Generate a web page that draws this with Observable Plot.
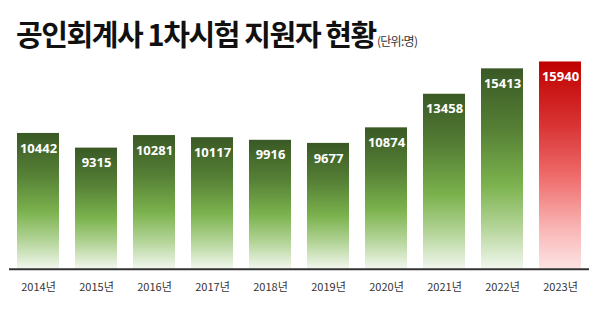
<!DOCTYPE html>
<html><head><meta charset="utf-8">
<script src="https://cdn.jsdelivr.net/npm/d3@7"></script>
<script src="https://cdn.jsdelivr.net/npm/@observablehq/plot@0.6"></script>
<style>
body{margin:0;background:#fff;width:600px;height:309px;overflow:hidden;font-family:"Noto Sans CJK KR","Noto Sans",sans-serif;}
#title{height:50px;position:relative;}
#title .main{position:absolute;left:16px;top:19px;font-size:29px;font-weight:700;letter-spacing:-1.4px;color:#111;white-space:nowrap;line-height:1;}
#title .unit{font-size:12px;font-weight:400;letter-spacing:-0.7px;color:#333;margin-left:1px;}
svg{display:block;}
</style></head>
<body>
<div id="title"><div class="main">공인회계사 1차시험 지원자 현황<span class="unit">(단위:명)</span></div></div>
<div id="chart"></div>
<script>
const years = ["2014년","2015년","2016년","2017년","2018년","2019년","2020년","2021년","2022년","2023년"];
const applicants = [10442, 9315, 10281, 10117, 9916, 9677, 10874, 13458, 15413, 15940];
const highlight = ["2023년"];

const data = years.map((y, i) => ({year: y, value: applicants[i], hi: highlight.includes(y)}));

const chart = Plot.plot({
  width: 600,
  height: 259,
  marginLeft: 9,
  marginRight: 11,
  marginTop: 10.7,
  marginBottom: 40.3,
  style: {fontFamily: '"Noto Sans CJK KR","Noto Sans",sans-serif', background: "transparent"},
  x: {domain: years, paddingInner: 0.276, paddingOuter: 0.138, label: null},
  y: {domain: [0, 16000], axis: null},
  marks: [
    Plot.barY(data, {x: "year", y: "value", fill: d => d.hi ? "url(#gradRed)" : "url(#gradGreen)"}),
    Plot.ruleY([0], {stroke: "#333", strokeWidth: 2}),
    Plot.text(data, {x: "year", y: "value", text: d => String(d.value), dy: 15, fill: "white",
      fontSize: 13, fontWeight: 700, fontFamily: '"Noto Sans","Open Sans",sans-serif'}),
    Plot.axisX({tickSize: 0, tickPadding: 14, fontSize: 11, color: "#333", label: null})
  ]
});

const ns = "http://www.w3.org/2000/svg";
const defs = document.createElementNS(ns, "defs");
defs.innerHTML = `
<linearGradient id="gradGreen" x1="0" y1="0" x2="0" y2="1">
  <stop offset="0" stop-color="#3a5925"/>
  <stop offset="0.3" stop-color="#557f35"/>
  <stop offset="0.58" stop-color="#7bb24d"/>
  <stop offset="0.8" stop-color="#b5d59a"/>
  <stop offset="1" stop-color="#f2f7ee"/>
</linearGradient>
<linearGradient id="gradRed" x1="0" y1="0" x2="0" y2="1">
  <stop offset="0" stop-color="#c00000"/>
  <stop offset="0.3" stop-color="#d83232"/>
  <stop offset="0.55" stop-color="#ef6a6a"/>
  <stop offset="0.8" stop-color="#f9b4b4"/>
  <stop offset="1" stop-color="#fde3e3"/>
</linearGradient>`;
chart.insertBefore(defs, chart.firstChild);
document.getElementById("chart").appendChild(chart);
</script>
</body></html>
